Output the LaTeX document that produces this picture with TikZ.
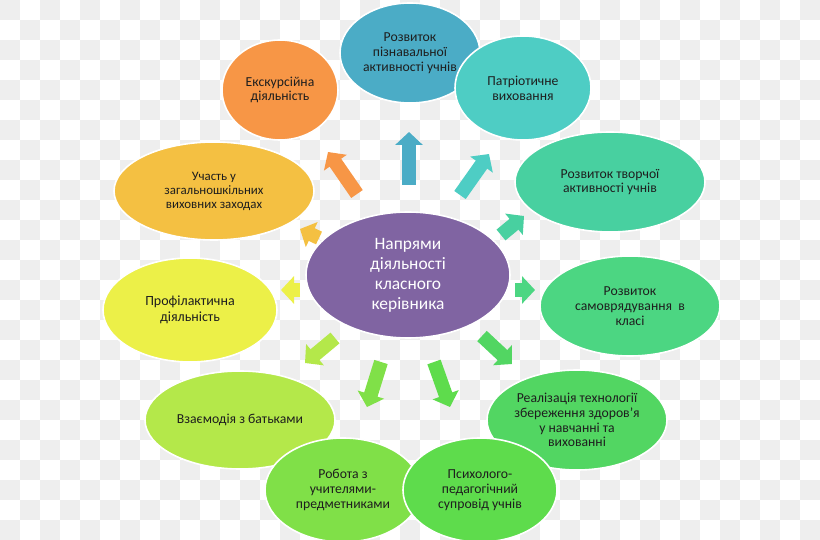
\documentclass[tikz,border=0pt]{standalone}
\usepackage{fontspec}
\setmainfont{Carlito}
\usetikzlibrary{shapes.geometric,arrows.meta}
\definecolor{chk}{RGB}{238,238,238}
\definecolor{txt}{RGB}{30,30,30}
\definecolor{cPurple}{RGB}{128,100,162}
\definecolor{cBlue}{RGB}{75,172,198}
\definecolor{cOrange}{RGB}{247,150,70}
\definecolor{cTeal}{RGB}{78,205,196}
\definecolor{cMint}{RGB}{72,208,160}
\definecolor{cGreenA}{RGB}{76,214,130}
\definecolor{cGreenB}{RGB}{82,214,98}
\definecolor{cGreenC}{RGB}{94,220,76}
\definecolor{cGreenD}{RGB}{128,224,72}
\definecolor{cLime}{RGB}{180,232,74}
\definecolor{cYellow}{RGB}{236,240,72}
\definecolor{cGold}{RGB}{244,192,66}
\begin{document}
\begin{tikzpicture}[x=1pt,y=-1pt,
  bub/.style={ellipse, draw=white, line width=1.6pt, inner sep=0pt, align=center,
    text=txt, font=\fontsize{13.7}{14.8}\selectfont},
  barrow/.style={line width=14pt, -{Triangle[length=13pt,width=27pt]}}]
\useasboundingbox (0,0) rectangle (820,540);
% checkerboard background
\foreach \i in {0,...,40}{\foreach \j in {0,...,26}{%
  \ifodd\numexpr\i+\j\relax\else\fill[chk] (\i*20,\j*20) rectangle ++(20,20);\fi}}
% outer ellipses
\node[bub, fill=cBlue, minimum width=140pt, minimum height=100pt] (pizn) at (410,53) {Розвиток\\пізнавальної\\активності учнів};
\node[bub, fill=cOrange, minimum width=116pt, minimum height=100pt] (ekskurs) at (280,90) {Екскурсійна\\діяльність};
\node[bub, fill=cTeal, minimum width=136pt, minimum height=104pt] (patriot) at (523,88) {Патріотичне\\виховання};
\node[bub, fill=cMint, minimum width=190pt, minimum height=100pt] (tvorch) at (610,182) {Розвиток творчої\\активності учнів};
\node[bub, fill=cGreenA, minimum width=180pt, minimum height=100pt] (samovr) at (630,306) {Розвиток\\самоврядування~~в\\класі};
\node[bub, fill=cGreenB, minimum width=180pt, minimum height=100pt] (realiz) at (577,420) {Реалізація технології\\збереження здоров\char"27я\\у навчанні та\\вихованні};
\node[bub, fill=cLime, minimum width=190pt, minimum height=98pt] (vzaem) at (240,420) {Взаємодія з батьками};
\node[bub, fill=cGreenD, minimum width=156pt, minimum height=104pt] (robota) at (343,490) {Робота з\\учителями-\\предметниками};
\node[bub, fill=cGreenC, minimum width=154pt, minimum height=104pt] (psych) at (480,490) {Психолого-\\педагогічний\\супровід учнів};
\node[bub, fill=cYellow, minimum width=174pt, minimum height=104pt, font=\fontsize{14}{15.5}\selectfont] (profil) at (190,310) {Профілактична\\діяльність};
\node[bub, fill=cGold, minimum width=200pt, minimum height=98pt, font=\fontsize{12.9}{14}\selectfont] (uchast) at (214,191) {Участь у\\загальношкільних\\виховних заходах};
% centre
\node[bub, fill=cPurple, minimum width=204pt, minimum height=126pt, text=white,
  font=\fontsize{17.4}{20}\selectfont] (centre) at (408,275) {Напрями\\діяльності\\класного\\керівника};
% arrow ends
\coordinate (t1) at (357,194); \coordinate (h1) at (328,152);
\coordinate (t2) at (409,185); \coordinate (h2) at (409,132);
\coordinate (t3) at (460,195); \coordinate (h3) at (489,154);
\coordinate (t4) at (501,235); \coordinate (h4) at (524,216);
\coordinate (t5) at (515,290); \coordinate (h5) at (535,290);
\coordinate (t6) at (482,336); \coordinate (h6) at (512,364);
\coordinate (t7) at (434,362); \coordinate (h7) at (450,407);
\coordinate (t8) at (381,362); \coordinate (h8) at (367,407);
\coordinate (t9) at (335,338); \coordinate (h9) at (305,363);
\coordinate (t10) at (300,290); \coordinate (h10) at (281,290);
\coordinate (t11) at (319,238); \coordinate (h11) at (300,229);
\draw[barrow, cOrange] (t1) -- (h1);
\draw[barrow, cBlue] (t2) -- (h2);
\draw[barrow, cTeal] (t3) -- (h3);
\draw[barrow, cMint] (t4) -- (h4);
\draw[barrow, cGreenA] (t5) -- (h5);
\draw[barrow, cGreenB] (t6) -- (h6);
\draw[barrow, cGreenC] (t7) -- (h7);
\draw[barrow, cGreenD] (t8) -- (h8);
\draw[barrow, cLime] (t9) -- (h9);
\draw[barrow, cYellow] (t10) -- (h10);
\draw[barrow, cGold] (t11) -- (h11);
\end{tikzpicture}
\end{document}
